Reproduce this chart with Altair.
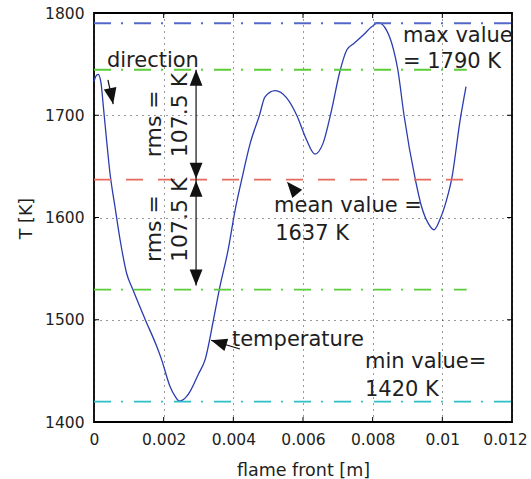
import altair as alt
import pandas as pd

# ---------------- data ----------------
x_front = [0.00000, 0.00005, 0.00012, 0.00020, 0.00027, 0.00036, 0.00046, 0.00060,
           0.00075, 0.00094, 0.00111, 0.00146, 0.00180, 0.00194, 0.00218, 0.00233,
           0.00245, 0.00266, 0.00276, 0.00300, 0.00319, 0.00343, 0.00360, 0.00386,
           0.00405, 0.00424, 0.00448, 0.00475, 0.00491, 0.00520, 0.00553, 0.00582,
           0.00610, 0.00634, 0.00658, 0.00682, 0.00706, 0.00726, 0.00745, 0.00773,
           0.00797, 0.00816, 0.00840, 0.00860, 0.00872, 0.00890, 0.00922, 0.00940,
           0.00960, 0.00976, 0.00993, 0.01012, 0.01027, 0.01051, 0.01068]
temperature = [1733, 1738, 1740, 1732, 1708, 1676, 1643, 1611,
               1578, 1545, 1530, 1501, 1474, 1461, 1435, 1425,
               1420.5, 1425, 1430, 1447, 1461, 1500, 1530, 1570,
               1607, 1637, 1672, 1700, 1718, 1724, 1717, 1700,
               1676, 1662, 1673, 1705, 1743, 1764, 1770, 1778.5,
               1786.5, 1790.5, 1783, 1764, 1745, 1700, 1638, 1611,
               1594, 1588, 1598, 1617, 1638, 1695, 1728]

x_ticks = [0, 0.002, 0.004, 0.006, 0.008, 0.01, 0.012]
y_ticks = [1400, 1500, 1600, 1700, 1800]

max_value = 1790
mean_value = 1637
rms_value = 107.5
min_value = 1420
data_end = 0.0107

FONT = "DejaVu Sans"
TXT = "#1e1e1e"

xsc = alt.Scale(domain=[0, 0.012], nice=False, zero=False)
ysc = alt.Scale(domain=[1400, 1800], nice=False, zero=False)

X_AXIS = alt.Axis(
    values=x_ticks, format="~g", title="flame front [m]", grid=True,
    labelPadding=10, labelAlign="center",
    labelOffset={"condition": {"test": "datum.value > 0.0115", "value": -7}, "value": 0},
    titleX=209, titleY=53, titleBaseline="alphabetic", titleAlign="center")
Y_AXIS = alt.Axis(
    values=y_ticks, format="d", title="T [K]", grid=True, labelPadding=10,
    titleAngle=270, titleX=-63, titleY=205, titleAlign="center",
    titleBaseline="alphabetic")


def X(field):
    return alt.X(field, scale=xsc, axis=X_AXIS)


def Y(field):
    return alt.Y(field, scale=ysc, axis=Y_AXIS)


# ---------------- curve ----------------
curve_df = pd.DataFrame({"x": x_front, "T": temperature})
curve = alt.Chart(curve_df).mark_line(
    color="#2b3cb0", strokeWidth=1.3, interpolate="monotone"
).encode(x=X("x:Q"), y=Y("T:Q"))


# ---------------- reference lines ----------------
def hline(y, x0, x1, color, dash, width=1.8):
    df = pd.DataFrame({"x": [x0], "x2": [x1], "T": [y]})
    return alt.Chart(df).mark_rule(color=color, strokeDash=dash, strokeWidth=width).encode(
        x=X("x:Q"), x2="x2:Q", y=Y("T:Q"))


dashdot = [17, 10, 2, 11]
ref_layers = [
    hline(max_value, 0, 0.012, "#5468c8", dashdot),
    hline(mean_value + rms_value, 0, data_end, "#5ccc3a", dashdot),
    hline(mean_value, 0, data_end, "#e8695e", [17, 15]),
    hline(mean_value - rms_value, 0, data_end, "#5ccc3a", dashdot),
    hline(min_value, 0, 0.012, "#2ec0c8", dashdot),
]

# ---------------- inward ticks ----------------
xt_df = pd.DataFrame({"x": x_ticks[1:-1]})
yt_df = pd.DataFrame({"T": y_ticks[1:-1]})
tick_layers = [
    alt.Chart(xt_df).mark_rule(color="black", strokeWidth=1).encode(
        x=X("x:Q"), y=alt.value(409), y2=alt.value(404)),
    alt.Chart(xt_df).mark_rule(color="black", strokeWidth=1).encode(
        x=X("x:Q"), y=alt.value(0), y2=alt.value(5)),
    alt.Chart(yt_df).mark_rule(color="black", strokeWidth=1).encode(
        y=Y("T:Q"), x=alt.value(0), x2=alt.value(5)),
    alt.Chart(yt_df).mark_rule(color="black", strokeWidth=1).encode(
        y=Y("T:Q"), x=alt.value(418), x2=alt.value(413)),
]

# ---------------- arrows ----------------
stems_df = pd.DataFrame({
    "x": [0.00293, 0.00040, 0.00419],
    "x2": [0.00293, 0.00055, 0.00336],
    "T": [mean_value + rms_value, 1734.5, 1471.4],
    "T2": [mean_value - rms_value + 4, 1711, 1480],
})
stems = alt.Chart(stems_df).mark_rule(color="#111", strokeWidth=1.2).encode(
    x=X("x:Q"), x2="x2:Q", y=Y("T:Q"), y2="T2:Q")

heads_df = pd.DataFrame({
    "x": [0.00293, 0.00293, 0.00293, 0.00293, 0.00055, 0.00336, 0.00554],
    "T": [mean_value + rms_value, mean_value + 1, mean_value - 1,
          mean_value - rms_value + 4, 1711, 1480, 1635],
    "angle": [0, 180, 0, 180, 169, 287, 320],
})
heads = alt.Chart(heads_df).mark_point(
    shape="M0,0 L-0.8,2 L0.8,2 Z", filled=True, color="#111", opacity=1, size=256,
    strokeWidth=0
).encode(
    x=X("x:Q"), y=Y("T:Q"),
    angle=alt.Angle("angle:Q", scale=None),
)

# ---------------- annotations ----------------
ann_df = pd.DataFrame({
    "x": [0.00037, 0.00887, 0.00887, 0.00517, 0.00520, 0.00396, 0.00778, 0.00778],
    "T": [1747.5, 1772, 1746, 1605, 1578, 1474, 1452.5, 1425.4],
    "t": ["direction", "max value", "= 1790 K", "mean value =", "1637 K",
          "temperature", "min value=", "1420 K"],
})
ann = alt.Chart(ann_df).mark_text(
    align="left", baseline="alphabetic", font=FONT, fontSize=21, color=TXT
).encode(x=X("x:Q"), y=Y("T:Q"), text="t:N")

rot_df = pd.DataFrame({
    "x": [0.00192, 0.00267, 0.00192, 0.00267],
    "T": [1659, 1659, 1556.5, 1556.5],
    "t": ["rms =", "107.5 K", "rms =", "107.5 K"],
})
rot = alt.Chart(rot_df).mark_text(
    align="left", baseline="alphabetic", angle=270, font=FONT, fontSize=22, color=TXT
).encode(x=X("x:Q"), y=Y("T:Q"), text="t:N")

chart = alt.layer(
    curve, *ref_layers, *tick_layers, stems, heads, ann, rot
).properties(
    width=418, height=409,
    autosize=alt.AutoSizeParams(type="none"),
    padding={"left": 94, "top": 13, "right": 19, "bottom": 57},
    background="white",
).configure_view(
    stroke="black", strokeWidth=1.8
).configure_axis(
    gridColor="black", gridDash=[1, 5], gridOpacity=0.8, gridWidth=1,
    domain=False, ticks=False, tickSize=0,
    labelFont=FONT, labelFontSize=15.5, labelColor=TXT,
    titleFont=FONT, titleFontSize=17.5, titleFontWeight="normal", titleColor=TXT,
)

chart.save("out.html", embed_options={"renderer": "svg", "actions": False})
